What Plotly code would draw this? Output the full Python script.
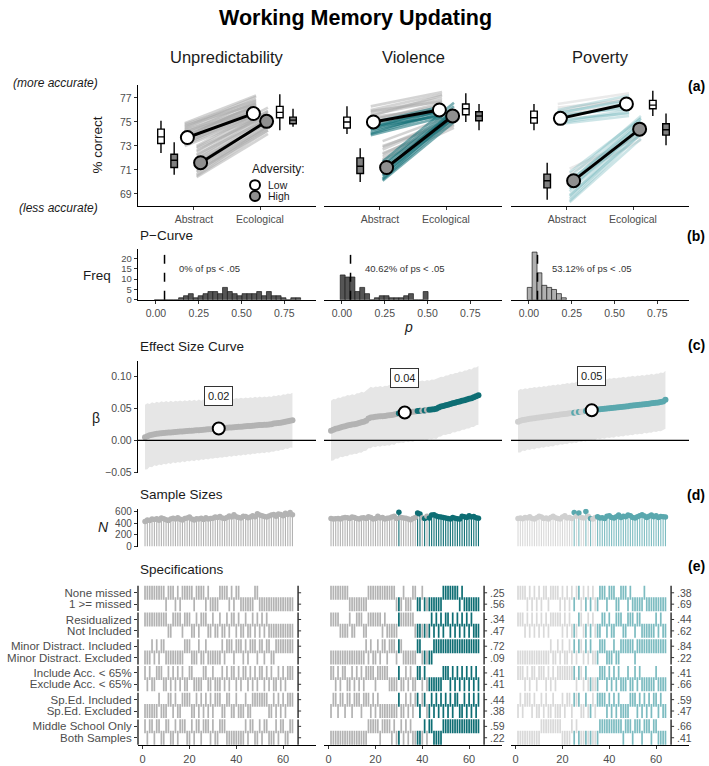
import numpy as np
import plotly.graph_objects as go

# ============================ DATA ============================
PANELS = ["Unpredictability", "Violence", "Poverty"]
CONDITIONS = ["Abstract", "Ecological"]
GROUPS = ["Low", "High"]
N_SPECS = 64

# (a) mean % correct (Abstract, Ecological)
MEAN_LOW = [[73.7, 75.7], [75.0, 76.0], [75.3, 76.5]]
MEAN_HIGH = [[71.6, 75.05], [71.2, 75.5], [70.1, 74.4]]

# (a) box summaries: lower whisker, q1, median, q3, upper whisker
BOX_LOW_ABS = [[72.4, 73.2, 73.75, 74.4, 75.1], [74.0, 74.5, 75.0, 75.4, 76.3], [74.3, 74.9, 75.35, 75.9, 76.5]]
BOX_HIGH_ABS = [[70.6, 71.2, 71.8, 72.3, 73.3], [70.0, 70.7, 71.3, 72.0, 72.8], [68.5, 69.5, 70.1, 70.65, 71.6]]
BOX_LOW_ECO = [[74.3, 75.35, 75.8, 76.3, 77.3], [75.0, 75.6, 76.1, 76.5, 77.4], [75.5, 76.1, 76.4, 76.8, 77.6]]
BOX_HIGH_ECO = [[74.6, 74.85, 75.15, 75.4, 76.1], [74.3, 75.1, 75.5, 75.85, 76.5], [73.05, 73.9, 74.35, 74.85, 75.7]]

# (a) per-specification estimates (Abstract, Ecological); ns = not significant, sig = significant
SPAG_LOW_NS = [
    [(73.0, 75.3), (73.1, 75.6), (73.2, 75.9), (73.3, 75.5), (73.4, 76.0), (73.5, 76.2), (73.6, 75.7),
     (73.7, 76.5), (73.8, 76.4), (73.9, 76.0), (74.0, 76.3), (74.1, 76.7), (74.2, 75.9), (74.3, 76.2),
     (74.4, 76.6), (74.5, 76.9), (74.6, 77.1), (74.7, 76.5), (74.8, 76.8), (74.9, 77.2)],
    [(74.9, 75.9), (75.1, 76.6), (75.2, 76.4), (75.4, 76.1), (75.5, 77.2), (75.6, 76.8), (75.8, 77.0),
     (75.9, 76.7), (76.0, 77.3), (76.3, 77.5)],
    [(75.6, 76.5), (75.9, 77.0), (76.2, 76.8), (76.5, 77.4)],
]
SPAG_LOW_SIG = [
    [],
    [(73.9, 75.4), (74.0, 75.7), (74.1, 75.9), (74.3, 75.6), (74.4, 76.0), (74.5, 76.2), (74.6, 75.5),
     (74.7, 75.9), (74.9, 76.3)],
    [(74.8, 75.5), (74.9, 75.8), (75.0, 76.0), (75.2, 75.7), (75.3, 76.5), (75.4, 76.3), (75.6, 76.1),
     (75.7, 76.9), (75.8, 76.7), (76.0, 77.2)],
]
SPAG_HIGH_NS = [
    [(70.4, 74.0), (70.5, 74.3), (70.6, 74.6), (70.8, 74.8), (70.9, 74.3), (71.0, 74.5), (71.1, 75.0),
     (71.3, 74.6), (71.5, 75.1), (71.6, 75.3), (71.8, 74.9), (71.9, 75.4), (72.0, 75.6), (72.2, 75.8),
     (72.3, 75.2), (72.5, 75.9), (72.6, 75.7), (72.8, 75.5), (72.9, 75.9), (73.0, 76.2)],
    [(71.8, 74.5), (71.9, 74.8), (72.1, 75.0), (72.3, 75.2), (72.4, 74.7), (72.7, 75.3), (72.9, 75.4),
     (73.0, 75.0), (73.4, 75.6)],
    [(70.3, 73.5), (70.7, 74.0), (71.1, 73.8)],
]
SPAG_HIGH_SIG = [
    [],
    [(70.1, 75.0), (70.2, 75.3), (70.3, 75.6), (70.5, 75.9), (70.6, 75.3), (70.8, 76.0), (70.9, 75.5),
     (71.1, 75.7), (71.3, 76.0), (71.4, 76.3), (71.7, 76.6)],
    [(68.3, 73.6), (68.4, 74.0), (68.6, 74.3), (68.8, 74.6), (68.9, 74.0), (69.2, 74.7), (69.4, 75.0),
     (69.5, 74.4), (69.8, 75.1), (70.0, 75.3), (70.1, 74.8), (70.4, 75.5), (70.8, 75.3)],
]

# (b) p-curve histograms (common bin grid)
P_BIN_START = -0.01
P_BIN_WIDTH = 0.0285
P_COUNTS = [
    [0, 0, 0, 0, 0, 1, 2, 3, 1, 2, 3, 4, 4, 3, 6, 4, 3, 2, 3, 3, 3, 4, 2, 4, 2, 2, 1, 0, 1, 1],
    [12, 11, 11, 4, 6, 3, 0, 1, 2, 2, 1, 1, 1, 2, 3, 0, 0, 4],
    [6, 23, 13, 7, 6, 5, 3, 1],
]
P_CUTOFF = 0.05

# (c) effect sizes (sorted) and standard errors per specification
BETA = [
    [0.005, 0.0065, 0.0078, 0.0088, 0.0095, 0.0101, 0.0106, 0.011, 0.0114, 0.0118,
     0.0121, 0.0124, 0.0127, 0.013, 0.0133, 0.0136, 0.0139, 0.0142, 0.0145, 0.0148,
     0.015, 0.0153, 0.0156, 0.0159, 0.0162, 0.0165, 0.0168, 0.0171, 0.0174, 0.0177,
     0.018, 0.0183, 0.0186, 0.0189, 0.0192, 0.0195, 0.0198, 0.0201, 0.0204, 0.0207,
     0.021, 0.0213, 0.0216, 0.0219, 0.0222, 0.0225, 0.0228, 0.0231, 0.0234, 0.0237,
     0.024, 0.0242, 0.0244, 0.0246, 0.025, 0.0261, 0.0265, 0.0269, 0.0275, 0.0282,
     0.029, 0.0298, 0.0305, 0.0312],
    [0.015, 0.0165, 0.018, 0.019, 0.020, 0.021, 0.022, 0.023, 0.024, 0.0245,
     0.025, 0.026, 0.027, 0.028, 0.029, 0.0305, 0.034, 0.0355, 0.036, 0.0365,
     0.037, 0.0373, 0.0376, 0.038, 0.0385, 0.039, 0.0395, 0.040, 0.041, 0.042,
     0.0425, 0.043, 0.0435, 0.044, 0.0442, 0.0445, 0.045, 0.0455, 0.046, 0.0462,
     0.0465, 0.047, 0.0475, 0.048, 0.0485, 0.049, 0.051, 0.0525, 0.0535, 0.0545,
     0.0555, 0.0565, 0.0575, 0.0585, 0.0595, 0.0605, 0.0615, 0.0625, 0.0635, 0.0645,
     0.0655, 0.067, 0.0685, 0.070],
    [0.029, 0.0305, 0.0315, 0.0322, 0.0328, 0.0334, 0.034, 0.0345, 0.035, 0.0355,
     0.036, 0.0365, 0.037, 0.0375, 0.038, 0.0385, 0.039, 0.0395, 0.040, 0.0405,
     0.041, 0.0415, 0.042, 0.0425, 0.043, 0.0435, 0.044, 0.0445, 0.045, 0.0455,
     0.046, 0.0465, 0.047, 0.0475, 0.048, 0.0484, 0.0488, 0.0492, 0.0496, 0.050,
     0.0504, 0.0508, 0.0512, 0.0516, 0.052, 0.0524, 0.0528, 0.0532, 0.0536, 0.054,
     0.0544, 0.0548, 0.0552, 0.0556, 0.056, 0.0565, 0.057, 0.0575, 0.058, 0.0585,
     0.059, 0.0597, 0.0605, 0.063],
]
SE = [
    [0.0256, 0.0262, 0.0249, 0.0258, 0.0246, 0.0255, 0.0245, 0.0253, 0.0244, 0.0251,
     0.0241, 0.0250, 0.0239, 0.0248, 0.0240, 0.0247, 0.0237, 0.0246, 0.0236, 0.0244,
     0.0235, 0.0243, 0.0233, 0.0242, 0.0232, 0.0240, 0.0231, 0.0239, 0.0230, 0.0237,
     0.0229, 0.0236, 0.0228, 0.0235, 0.0227, 0.0233, 0.0226, 0.0232, 0.0224, 0.0231,
     0.0223, 0.0230, 0.0222, 0.0229, 0.0221, 0.0228, 0.0220, 0.0227, 0.0219, 0.0226,
     0.0218, 0.0225, 0.0217, 0.0224, 0.0216, 0.0223, 0.0215, 0.0222, 0.0214, 0.0221,
     0.0213, 0.0220, 0.0212, 0.0218],
    [0.0238, 0.0244, 0.0235, 0.0242, 0.0233, 0.0241, 0.0236, 0.0243, 0.0234, 0.0240,
     0.0233, 0.0241, 0.0235, 0.0242, 0.0232, 0.0239, 0.0236, 0.0243, 0.0233, 0.0240,
     0.0234, 0.0241, 0.0232, 0.0239, 0.0235, 0.0242, 0.0233, 0.0240, 0.0231, 0.0238,
     0.0234, 0.0240, 0.0232, 0.0239, 0.0233, 0.0240, 0.0231, 0.0238, 0.0234, 0.0239,
     0.0232, 0.0238, 0.0230, 0.0237, 0.0233, 0.0239, 0.0231, 0.0237, 0.0229, 0.0236,
     0.0232, 0.0238, 0.0230, 0.0236, 0.0231, 0.0237, 0.0229, 0.0235, 0.0230, 0.0236,
     0.0228, 0.0235, 0.0229, 0.0233],
    [0.0245, 0.0251, 0.0242, 0.0249, 0.0240, 0.0247, 0.0241, 0.0248, 0.0239, 0.0246,
     0.0238, 0.0245, 0.0237, 0.0244, 0.0239, 0.0245, 0.0236, 0.0243, 0.0235, 0.0242,
     0.0237, 0.0243, 0.0234, 0.0241, 0.0236, 0.0242, 0.0233, 0.0240, 0.0235, 0.0241,
     0.0232, 0.0239, 0.0234, 0.0240, 0.0231, 0.0238, 0.0233, 0.0239, 0.0230, 0.0237,
     0.0232, 0.0238, 0.0229, 0.0236, 0.0231, 0.0237, 0.0228, 0.0235, 0.0230, 0.0236,
     0.0227, 0.0234, 0.0229, 0.0235, 0.0226, 0.0233, 0.0228, 0.0234, 0.0225, 0.0232,
     0.0227, 0.0233, 0.0226, 0.0230],
]

# (d) sample sizes per specification
SAMPLE_N = [
    [430, 455, 445, 470, 462, 476, 452, 490, 475, 460, 447, 470, 486, 472, 495, 466, 456, 480, 490, 505,
     470, 455, 476, 470, 486, 462, 495, 470, 480, 486, 505, 498, 515, 490, 480, 500, 525, 505, 545, 510,
     500, 490, 520, 515, 495, 505, 530, 510, 565, 540, 530, 515, 505, 525, 540, 550, 520, 560, 550, 530,
     570, 550, 585, 545],
    [480, 470, 476, 482, 470, 490, 500, 495, 480, 505, 500, 480, 470, 490, 495, 480, 510, 500, 470, 480,
     520, 490, 500, 470, 486, 490, 505, 520, 480, 590, 500, 490, 485, 470, 460, 480, 500, 575, 560, 495,
     480, 520, 490, 540, 545, 525, 510, 505, 500, 490, 480, 470, 500, 485, 475, 470, 520, 510, 500, 530,
     505, 515, 495, 485],
    [480, 490, 475, 500, 490, 510, 480, 470, 495, 520, 505, 480, 490, 470, 500, 520, 495, 480, 470, 505,
     530, 490, 500, 480, 585, 520, 575, 500, 490, 600, 520, 480, 470, 500, 510, 490, 495, 480, 520, 530,
     500, 490, 510, 540, 500, 520, 510, 540, 530, 500, 490, 510, 530, 545, 525, 500, 520, 540, 510, 530,
     500, 515, 510, 505],
]

# significant specifications (p < .05)
SIG_SPECS = [
    [],
    [30, 38, 39, 41] + list(range(43, 65)),
    [25, 27, 30, 32] + list(range(35, 65)),
]

# (e) specification factors; lists give the specs that use the first level
SPEC_LEVELS = [
    ("None missed", "1 >= missed"),
    ("Residualized", "Not Included"),
    ("Minor Distract. Included", "Minor Distract. Excluded"),
    ("Include Acc. < 65%", "Exclude Acc. < 65%"),
    ("Sp.Ed. Included", "Sp.Ed. Excluded"),
    ("Middle School Only", "Both Samples"),
]
FIRST_LEVEL_SPECS = [
    [  # Unpredictability
        [1, 2, 3, 4, 5, 6, 7, 8, 9, 11, 12, 13, 15, 17, 18, 19, 20, 21, 23, 24, 25, 26, 28, 33, 34, 35, 36, 38, 40, 41, 48, 49],
        [1, 2, 3, 4, 5, 6, 7, 8, 9, 10, 13, 14, 15, 16, 18, 19, 20, 23, 25, 26, 27, 30, 33, 36, 38, 39, 41, 44, 47, 49, 51, 53],
        [4, 6, 8, 9, 18, 19, 20, 24, 27, 34, 36, 37, 38, 40, 41, 42, 44, 46, 47, 48, 50, 51, 53, 54, 57, 58, 59, 60, 61, 62, 63, 64],
        [1, 3, 6, 7, 8, 11, 13, 15, 17, 20, 21, 26, 27, 30, 34, 36, 38, 39, 41, 43, 44, 46, 48, 50, 51, 53, 55, 58, 60, 62, 63, 64],
        [7, 11, 12, 14, 17, 18, 19, 20, 23, 25, 27, 29, 31, 32, 33, 36, 37, 40, 44, 47, 48, 49, 50, 51, 52, 53, 56, 58, 60, 62, 63, 64],
        [1, 3, 4, 6, 7, 10, 11, 14, 16, 17, 18, 21, 23, 24, 26, 27, 28, 30, 33, 34, 35, 44, 46, 47, 50, 52, 53, 57, 59, 60, 63, 64],
    ],
    [  # Violence
        [1, 2, 3, 4, 5, 6, 7, 8, 17, 18, 19, 20, 21, 22, 23, 24, 25, 26, 27, 28, 32, 36, 37, 40, 49, 50, 51, 52, 53, 54, 55, 57],
        [1, 2, 3, 4, 9, 12, 13, 14, 17, 18, 19, 20, 21, 22, 24, 30, 31, 32, 33, 34, 35, 36, 44, 46, 48, 50, 51, 53, 55, 57, 59, 61],
        [16, 18, 21, 23, 24, 26, 27, 28, 30, 31, 38, 39] + list(range(45, 65)),
        [1, 2, 4, 6, 7, 10, 12, 14, 16, 17, 18, 19, 21, 22, 23, 24, 25, 30, 33, 35, 38, 39, 41, 49, 50, 51, 53, 55, 57, 59, 61, 63],
        [2, 3, 5, 6, 8, 9, 11, 12, 13, 15, 16, 17, 19, 21, 30, 33, 35, 37, 38, 40, 41, 44, 46, 48, 50, 52, 54, 55, 58, 60, 62, 64],
        [17, 18, 19, 20, 21, 23, 24, 25, 26, 28, 31, 33, 35, 41, 43, 44] + list(range(49, 65)),
    ],
    [  # Poverty
        [1, 2, 3, 4, 6, 8, 10, 12, 13, 15, 16, 17, 18, 20, 22, 24, 26, 27, 29, 31, 33, 36, 37, 38, 40, 41, 42, 45, 46, 47, 49, 55],
        [1, 2, 3, 5, 7, 9, 11, 13, 15, 16, 17, 18, 19, 21, 23, 27, 28, 31, 33, 37, 38, 40, 43, 44, 45, 48, 49, 50, 52, 53, 60, 62],
        [15, 18, 20, 23, 25, 27, 28, 30, 32, 36, 37, 38, 42, 45, 46, 47, 48, 49, 50] + list(range(52, 65)),
        [1, 2, 3, 5, 7, 8, 10, 11, 12, 14, 16, 18, 19, 20, 21, 22, 23, 24, 25, 27, 28, 30, 36, 37, 38, 40, 42, 44, 48, 51, 53, 60],
        [2, 4, 5, 6, 8, 11, 13, 16, 20, 22, 23, 25, 26, 27, 30, 33, 35, 36, 37, 38, 40, 42, 44, 49, 50, 51, 53, 55, 57, 59, 60, 62],
        [11, 12, 13, 14, 15, 16, 17, 18, 19, 24, 26, 36, 37, 38, 39, 40, 41, 42, 43, 44, 45, 47, 48, 49, 51, 52, 53, 55, 56, 57, 59, 60],
    ],
]

# ============================ LAYOUT HELPERS ============================
W, H = 709, 766
FONT = "Liberation Sans, Arial, Helvetica, sans-serif"
TXT = "#1a1a1a"
TICK_TXT = "#4d4d4d"


def px(x):
    return x / W


def py(y):
    return 1 - y / H


COLS_PX = [(138, 316), (324, 502), (511, 689)]
ROWS_PX = [(83, 205), (249, 300), (362, 475), (511, 550), (588, 750)]
X_RANGES = [[0.152, 2.848], [-0.105, 0.935], [-2.0, 74.06], [-2.0, 74.06], [-2.0, 74.06]]
Y_RANGES = [[68.0, 78.07], [0, 24.3], [-0.0508, 0.123], [-17, 651], [154, -8]]

GRAY = "#b3b3b3"
TEAL = "#0e6e74"
STYLE = [
    dict(ns=GRAY, sig=GRAY, ns_pt=GRAY, sig_pt=GRAY,
         spag_ns="rgba(170,170,170,0.5)", spag_sig="rgba(170,170,170,0.5)", bar="#555555"),
    dict(ns=GRAY, sig=TEAL, ns_pt=GRAY, sig_pt=TEAL,
         spag_ns="rgba(170,170,170,0.5)", spag_sig="rgba(14,110,116,0.55)", bar="#555555"),
    dict(ns="#d9d9d9", sig="#7dbcc1", ns_pt="#d0d0d0", sig_pt="#5aa8ae",
         spag_ns="rgba(195,195,195,0.35)", spag_sig="rgba(90,168,174,0.3)", bar="#b0b0b0"),
]
LOW_FILL = "white"
HIGH_FILL = "#8f8f8f"
BOX_HIGH_FILL = "#808080"

# row positions in the specification panel (pixel-like units)
ROW_POS = []
ROW_LABELS = []
for g, (lv1, lv2) in enumerate(SPEC_LEVELS):
    ROW_POS += [g * 27, g * 27 + 11.5]
    ROW_LABELS += [lv1, lv2]
RIGHT_AXIS_X = 66.4

fig = go.Figure()
layout = {}
ann = []
shp = []


def ids(ri, ci):
    n = ri * 3 + ci + 1
    s = "" if n == 1 else str(n)
    return "x" + s, "y" + s, "xaxis" + s, "yaxis" + s


def base(domain, rng, anchor):
    return dict(domain=domain, range=rng, anchor=anchor, showgrid=False, zeroline=False,
                showline=False, ticks="", showticklabels=False, fixedrange=True)


def lined(size=10.5):
    return dict(showline=True, linecolor="black", linewidth=1.2, ticks="outside", ticklen=3,
                tickwidth=1, tickcolor="#333333", showticklabels=True,
                tickfont=dict(family=FONT, size=size, color=TICK_TXT))


for ri in range(5):
    for ci in range(3):
        xr, yr, xk, yk = ids(ri, ci)
        c0, c1 = COLS_PX[ci]
        r0, r1 = ROWS_PX[ri]
        xa = base([px(c0), px(c1)], X_RANGES[ri], yr)
        ya = base([py(r1), py(r0)], Y_RANGES[ri], xr)
        if ri == 0:
            xa.update(lined(), tickvals=[1, 2], ticktext=CONDITIONS)
            if ci == 0:
                ya.update(lined(), tickvals=[69, 71, 73, 75, 77])
        elif ri == 1:
            xa.update(lined(), tickvals=[0, 0.25, 0.5, 0.75], tickformat=".2f")
            if ci == 0:
                ya.update(lined(9.5), tickvals=[0, 5, 10, 15, 20])
        elif ri == 2:
            if ci == 0:
                ya.update(lined(), tickvals=[-0.05, 0, 0.05, 0.10], tickformat=".2f")
        elif ri == 3:
            if ci == 0:
                ya.update(lined(10), tickvals=[0, 200, 400, 600])
        else:
            xa.update(lined(11), tickvals=[0, 20, 40, 60])
            if ci == 0:
                ya.update(ticks="outside", ticklen=3, tickwidth=1, tickcolor="#333333",
                          showticklabels=True, tickvals=ROW_POS, ticktext=ROW_LABELS,
                          tickfont=dict(family=FONT, size=11.5, color=TICK_TXT))
        layout[xk] = xa
        layout[yk] = ya

specs = np.arange(1, N_SPECS + 1)

for ci in range(3):
    st = STYLE[ci]
    sig = set(SIG_SPECS[ci])
    is_sig = np.array([s in sig for s in specs])

    # ---------------- (a) ----------------
    xr, yr, _, _ = ids(0, ci)

    def spag(pairs, x0, x1, color):
        xs, ys = [], []
        for a, e in pairs:
            xs += [x0, x1, None]
            ys += [a, e, None]
        return go.Scatter(x=xs, y=ys, mode="lines", line=dict(color=color, width=2.6),
                          xaxis=xr, yaxis=yr, hoverinfo="skip")

    fig.add_trace(spag(SPAG_LOW_NS[ci], 0.86, 1.94, st["spag_ns"]))
    fig.add_trace(spag(SPAG_HIGH_NS[ci], 1.04, 2.12, st["spag_ns"]))
    fig.add_trace(spag(SPAG_LOW_SIG[ci], 0.86, 1.94, st["spag_sig"]))
    fig.add_trace(spag(SPAG_HIGH_SIG[ci], 1.04, 2.12, st["spag_sig"]))

    for stats, pos, fill in [(BOX_LOW_ABS[ci], 0.5, LOW_FILL), (BOX_HIGH_ABS[ci], 0.7, BOX_HIGH_FILL),
                             (BOX_LOW_ECO[ci], 2.3, LOW_FILL), (BOX_HIGH_ECO[ci], 2.5, BOX_HIGH_FILL)]:
        fig.add_trace(go.Box(x=[pos], lowerfence=[stats[0]], q1=[stats[1]], median=[stats[2]],
                             q3=[stats[3]], upperfence=[stats[4]], orientation="v", width=0.1,
                             fillcolor=fill, line=dict(color="black", width=1.4), whiskerwidth=0,
                             boxpoints=False, xaxis=xr, yaxis=yr, hoverinfo="skip"))

    fig.add_trace(go.Scatter(x=[0.9, 1.9], y=MEAN_LOW[ci], mode="lines+markers",
                             line=dict(color="black", width=3),
                             marker=dict(size=13, color=LOW_FILL, line=dict(color="black", width=2)),
                             xaxis=xr, yaxis=yr, hoverinfo="skip"))
    fig.add_trace(go.Scatter(x=[1.1, 2.1], y=MEAN_HIGH[ci], mode="lines+markers",
                             line=dict(color="black", width=3),
                             marker=dict(size=13, color=HIGH_FILL, line=dict(color="black", width=2)),
                             xaxis=xr, yaxis=yr, hoverinfo="skip"))

    # ---------------- (b) ----------------
    xr, yr, _, _ = ids(1, ci)
    counts = np.array(P_COUNTS[ci])
    centers = P_BIN_START + P_BIN_WIDTH * (np.arange(len(counts)) + 0.5)
    fig.add_trace(go.Bar(x=centers, y=counts, width=P_BIN_WIDTH,
                         marker=dict(color=st["bar"], line=dict(color="#1a1a1a", width=0.7)),
                         xaxis=xr, yaxis=yr, hoverinfo="skip"))
    shp.append(dict(type="line", xref=xr, yref=yr + " domain", x0=P_CUTOFF, x1=P_CUTOFF, y0=0, y1=1,
                    line=dict(color="black", width=1.5, dash="dash")))
    pct = 100 * len(sig) / N_SPECS
    pct_txt = f"{pct:.2f}".rstrip("0").rstrip(".")
    ann.append(dict(x=0.125, y=15, xref=xr, yref=yr, xanchor="left", yanchor="middle",
                    text=f"{pct_txt}% of ps < .05", showarrow=False,
                    font=dict(family=FONT, size=9.5, color="#333333")))

    # ---------------- (c) ----------------
    xr, yr, _, _ = ids(2, ci)
    beta = np.array(BETA[ci])
    se = np.array(SE[ci])
    hi = beta + 1.96 * se
    lo = beta - 1.96 * se
    fig.add_trace(go.Scatter(x=np.concatenate([specs, specs[::-1]]), y=np.concatenate([hi, lo[::-1]]),
                             fill="toself", fillcolor="#e6e6e6", line=dict(width=0), mode="lines",
                             xaxis=xr, yaxis=yr, hoverinfo="skip"))
    shp.append(dict(type="line", xref=xr + " domain", yref=yr, x0=0, x1=1, y0=0, y1=0,
                    line=dict(color="black", width=1.4)))
    pcols = [st["sig_pt"] if s else st["ns_pt"] for s in is_sig]
    fig.add_trace(go.Scatter(x=specs, y=beta, mode="markers",
                             marker=dict(size=6, color=pcols, line=dict(width=0)),
                             xaxis=xr, yaxis=yr, hoverinfo="skip"))
    med_x = float(np.median(specs))
    med_b = float(np.median(beta))
    fig.add_trace(go.Scatter(x=[med_x], y=[med_b], mode="markers",
                             marker=dict(size=12, color="white", line=dict(color="black", width=2)),
                             xaxis=xr, yaxis=yr, hoverinfo="skip"))
    label_y = [0.069, 0.097, 0.100][ci]
    ann.append(dict(x=med_x, y=label_y, xref=xr, yref=yr, text=f"{med_b:.2f}", showarrow=False,
                    bordercolor="#333333", borderwidth=1, borderpad=3, bgcolor="white",
                    font=dict(family=FONT, size=11, color="#1a1a1a")))

    # ---------------- (d) ----------------
    xr, yr, _, _ = ids(3, ci)
    nvals = np.array(SAMPLE_N[ci])
    for flag, color in [(False, st["ns"]), (True, st["sig"])]:
        xs, ys = [], []
        for s, n, f in zip(specs, nvals, is_sig):
            if f == flag:
                xs += [s, s, None]
                ys += [0, n, None]
        if xs:
            fig.add_trace(go.Scatter(x=xs, y=ys, mode="lines", line=dict(color=color, width=1.1),
                                     xaxis=xr, yaxis=yr, hoverinfo="skip"))
    dcols = [st["sig_pt"] if s else st["ns_pt"] for s in is_sig]
    fig.add_trace(go.Scatter(x=specs, y=nvals, mode="markers",
                             marker=dict(size=5.5, color=dcols, line=dict(width=0)),
                             xaxis=xr, yaxis=yr, hoverinfo="skip"))

    # ---------------- (e) ----------------
    xr, yr, _, _ = ids(4, ci)
    mx, my, mc = [], [], []
    props = []
    for f, first in enumerate(FIRST_LEVEL_SPECS[ci]):
        first = set(first)
        n1 = n1s = n2 = n2s = 0
        for s, sg in zip(specs, is_sig):
            if s in first:
                my.append(ROW_POS[2 * f]); n1 += 1; n1s += int(sg)
            else:
                my.append(ROW_POS[2 * f + 1]); n2 += 1; n2s += int(sg)
            mx.append(s)
            mc.append(st["sig"] if sg else st["ns"])
        props += [n1s / max(n1, 1), n2s / max(n2, 1)]
    fig.add_trace(go.Scatter(x=mx, y=my, mode="markers",
                             marker=dict(symbol="line-ns", size=10, line=dict(width=1.7, color=mc)),
                             xaxis=xr, yaxis=yr, hoverinfo="skip"))
    for g in range(len(SPEC_LEVELS)):
        shp.append(dict(type="line", xref=xr, yref=yr, x0=RIGHT_AXIS_X, x1=RIGHT_AXIS_X,
                        y0=g * 27 - 7, y1=g * 27 + 18.5, line=dict(color="black", width=1.2)))
        if ci == 0:
            shp.append(dict(type="line", xref="paper", yref=yr, x0=px(138), x1=px(138),
                            y0=g * 27 - 7, y1=g * 27 + 18.5, line=dict(color="black", width=1.2)))
    for pos, pr in zip(ROW_POS, props):
        shp.append(dict(type="line", xref=xr, yref=yr, x0=RIGHT_AXIS_X, x1=RIGHT_AXIS_X + 1.3,
                        y0=pos, y1=pos, line=dict(color="#333333", width=1)))
        if sig:
            ann.append(dict(x=RIGHT_AXIS_X + 1.6, y=pos, xref=xr, yref=yr, xanchor="left",
                            yanchor="middle", text=f"{pr:.2f}"[1:], showarrow=False,
                            font=dict(family=FONT, size=10.5, color=TICK_TXT)))

# ---------------- texts ----------------
def text(x, y, s, size, color=TXT, xanchor="center", **kw):
    ann.append(dict(x=px(x), y=py(y), xref="paper", yref="paper", text=s, showarrow=False,
                    xanchor=xanchor, yanchor="middle", font=dict(family=FONT, size=size, color=color), **kw))


text(355, 15, "<b>Working Memory Updating</b>", 21.5, "black")
for ci, name in enumerate(PANELS):
    text((COLS_PX[ci][0] + COLS_PX[ci][1]) / 2, 55, name, 16.5)
text(100, 81, "<i>(more accurate)</i>", 12, xanchor="right")
text(100, 207, "<i>(less accurate)</i>", 12, xanchor="right")
text(97, 144, "% correct", 13.5, textangle=-90)
text(97, 275, "Freq", 13.5)
text(96, 419, "β", 14)
text(103, 530, "<i>N</i>", 14)
text(408, 327, "<i>p</i>", 14)
text(138, 235, "P−Curve", 13.5, xanchor="left")
text(138, 347, "Effect Size Curve", 13.5, xanchor="left")
text(138, 497, "Sample Sizes", 13.5, xanchor="left")
text(138, 572, "Specifications", 13.5, xanchor="left")
for lab, y in zip(["(a)", "(b)", "(c)", "(d)", "(e)"], [84, 235, 346, 497, 569]):
    text(707, y, f"<b>{lab}</b>", 14, "black", xanchor="right")

# legend (a)
text(250, 168, "Adversity:", 12, xanchor="left")
for lab, y, fill in [(GROUPS[0], 184, LOW_FILL), (GROUPS[1], 195, HIGH_FILL)]:
    shp.append(dict(type="circle", xref="paper", yref="paper", x0=px(250), x1=px(260),
                    y0=py(y + 5), y1=py(y - 5), fillcolor=fill, line=dict(color="black", width=2)))
    text(266, y, lab, 10.5, xanchor="left")

layout.update(width=W, height=H, autosize=False, margin=dict(l=0, r=0, t=0, b=0),
              paper_bgcolor="white", plot_bgcolor="white", showlegend=False,
              font=dict(family=FONT, color=TXT), annotations=ann, shapes=shp, boxmode="overlay")
fig.update_layout(**layout)
fig.write_html("out.html", include_plotlyjs=True,
               config={"displayModeBar": False, "staticPlot": True},
               post_script="document.body.style.margin='0';document.body.style.overflow='hidden';")
